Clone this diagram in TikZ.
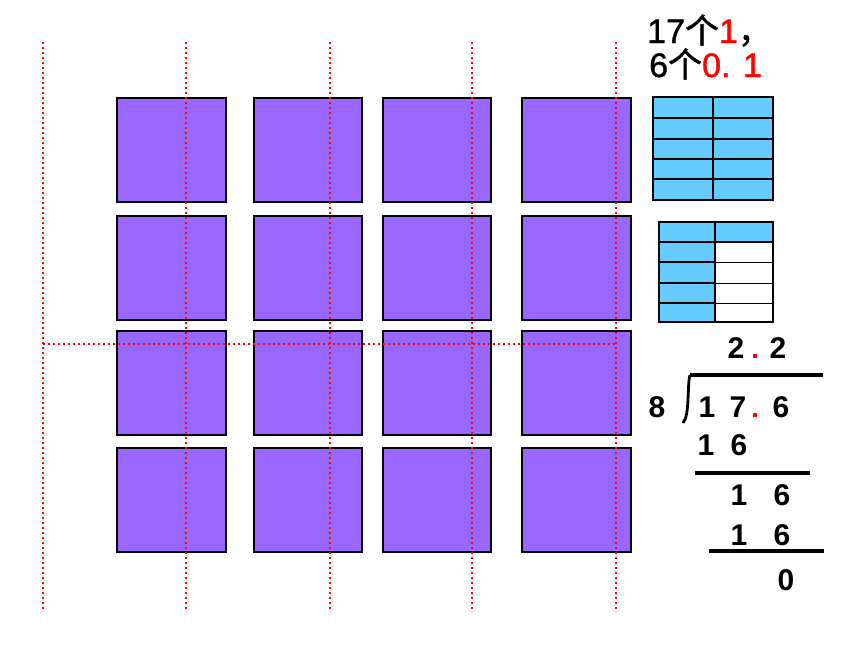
\documentclass[tikz,border=0pt]{standalone}
\usepackage{fontspec}
\setmainfont{Liberation Sans}
\newfontfamily\topfont[FakeBold=1.2]{Liberation Sans}
\newfontfamily\cjk[FakeBold=1.2]{Noto Sans CJK SC}
\definecolor{sq}{HTML}{9966FF}
\definecolor{bl}{HTML}{66CCFF}
\begin{document}
\begin{tikzpicture}[x=1pt,y=-1pt,
  sqbox/.style={fill=sq,draw=black,line width=2.6pt},
  dotl/.style={red,line width=2pt,dash pattern=on 2pt off 3pt},
  cell/.style={draw=black,line width=2.6pt,fill=bl},
  wcell/.style={draw=black,line width=1pt,fill=white},
  toptxt/.style={anchor=base west,inner sep=0pt,text height=24pt,text depth=1pt,
    font=\fontsize{34}{34}\topfont},
  dig/.style={font=\fontsize{30}{30}\selectfont\bfseries,anchor=base,inner sep=0pt},
  rdot/.style={fill=red,minimum size=4.5pt,inner sep=0pt},
  hl/.style={line width=3.5pt}]
\useasboundingbox (0,0) rectangle (860,645);
% squares
\foreach \xa/\xb [count=\i] in {117/226,254/362,383/491,522/631}{
  \foreach \ya/\yb [count=\j] in {98/202,216/320,331/435,448/552}{
    \path[sqbox] (\xa,\ya) rectangle (\xb,\yb) node[coordinate] (s\i\j) {};
  }}
% dotted lines
\foreach \x [count=\k] in {43,186,330,472,616}{
  \coordinate (t\k) at (\x,42); \coordinate (b\k) at (\x,612);
  \draw[dotl] (t\k) -- (b\k);}
\coordinate (hl1) at (43,344); \coordinate (hl2) at (616,344);
\draw[dotl] (hl1) -- (hl2);
% top text
\node[toptxt] (txt1) at (647,43)
  {17{\cjk 个}\textcolor{red}{1}{\cjk ，}};
\node[toptxt] (txt2) at (649,77)
  {6{\cjk 个}\textcolor{red}{0. 1}};
% grid 1
\foreach \ya/\yb in {97/118,118/139,139/159,159/179,179/200}{
  \path[cell] (653,\ya) rectangle (713,\yb);
  \path[cell] (713,\ya) rectangle (773,\yb);}
% grid 2
\path[cell] (659,222) rectangle (715,242);
\path[cell] (715,222) rectangle (773,242);
\foreach \ya/\yb in {242/262,262/283,283/303,303/322}{
  \path[wcell] (715,\ya) rectangle (773,\yb);
  \path[cell] (659,\ya) rectangle (715,\yb);}
\draw[line width=2.6pt] (773,240) -- (773,322) -- (715,322);
% division
\node[dig] (q1) at (736,358) {2};
\node[rdot] (qd) at (755,356) {};
\node[dig] (q2) at (778,358) {2};
\node[dig] (dv) at (657,417) {8};
\node[dig] (a1) at (707,417) {1};
\node[dig] (a2) at (738,417) {7};
\node[rdot] (ad) at (755,415) {};
\node[dig] (a3) at (781,417) {6};
\coordinate (br0) at (690,375); \coordinate (br1) at (823,375); \coordinate (br2) at (683,423);
\draw[hl] (br1) -- (br0);
\draw[line width=2.8pt] (br0) .. controls (687,385) and (690,415) .. (br2);
\node[dig] (r1) at (706,455) {1};
\node[dig] (r2) at (739,455) {6};
\coordinate (l1a) at (695,473); \coordinate (l1b) at (810,473);
\draw[hl] (l1a) -- (l1b);
\node[dig] (m1) at (739,505) {1};
\node[dig] (m2) at (782,505) {6};
\node[dig] (n1) at (739,545) {1};
\node[dig] (n2) at (782,545) {6};
\coordinate (l2a) at (709,551); \coordinate (l2b) at (824,551);
\draw[hl] (l2a) -- (l2b);
\node[dig] (z) at (786,590) {0};
\end{tikzpicture}
\end{document}
